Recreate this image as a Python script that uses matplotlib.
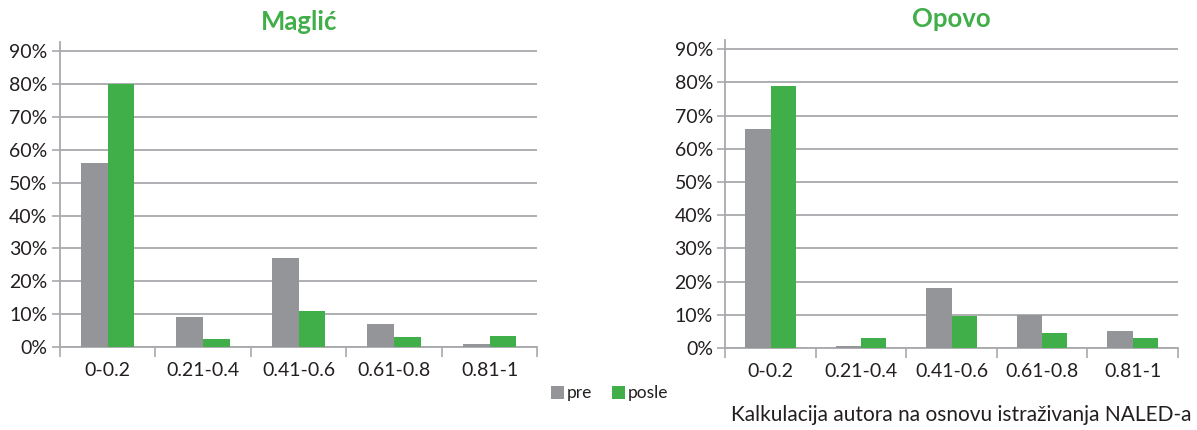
import matplotlib.pyplot as plt
import numpy as np
from matplotlib.ticker import FixedLocator, PercentFormatter

plt.rcParams['font.family'] = ['Lato', 'DejaVu Sans']

CATEGORIES = ['0-0.2', '0.21-0.4', '0.41-0.6', '0.61-0.8', '0.81-1']
MAGLIC_PRE = [56, 9, 27, 7, 1]
MAGLIC_POSLE = [80, 2.5, 11, 3, 3.2]
OPOVO_PRE = [66, 0.6, 18, 10, 5]
OPOVO_POSLE = [79, 3, 9.5, 4.4, 3]
Y_TICKS = [0, 10, 20, 30, 40, 50, 60, 70, 80, 90]

GREY = '#939598'
GREEN = '#40ae49'
TEXT = '#231f20'
GRID = '#a7a9ac'


def draw_panel(ax, title, pre, posle):
    x = np.arange(len(CATEGORIES))
    w = 0.28
    ax.bar(x - w / 2, pre, w, color=GREY, zorder=3, label='pre')
    ax.bar(x + w / 2, posle, w, color=GREEN, zorder=3, label='posle')

    ax.set_xlim(-0.5, len(CATEGORIES) - 0.5)
    ax.set_ylim(0, 92.8)
    ax.set_yticks(Y_TICKS)
    ax.yaxis.set_major_formatter(PercentFormatter(decimals=0))
    ax.yaxis.grid(True, color=GRID, linewidth=1.3, zorder=0)
    ax.set_xticks(x)
    ax.set_xticklabels(CATEGORIES)
    ax.xaxis.set_minor_locator(FixedLocator(np.arange(-0.5, len(CATEGORIES), 1.0)))
    ax.tick_params(axis='x', which='major', length=0, pad=11, labelsize=14, labelcolor=TEXT)
    ax.tick_params(axis='x', which='minor', length=7, width=1.2, color=GRID, direction='out')
    ax.tick_params(axis='y', length=6, width=1.2, color=GRID, labelsize=14, labelcolor=TEXT, pad=3)

    for side in ('top', 'right'):
        ax.spines[side].set_visible(False)
    for side in ('left', 'bottom'):
        ax.spines[side].set_color(GRID)
        ax.spines[side].set_linewidth(1.3)

    ax.set_title(title, color=GREEN, fontsize=18.5, fontweight='bold', pad=9)


fig = plt.figure(figsize=(11.97, 4.30), dpi=100)
ax1 = fig.add_axes([0.050, 0.193, 0.399, 0.709])
ax2 = fig.add_axes([0.606, 0.191, 0.378, 0.716])

draw_panel(ax1, 'Maglić', MAGLIC_PRE, MAGLIC_POSLE)
draw_panel(ax2, 'Opovo', OPOVO_PRE, OPOVO_POSLE)

handles, labels = ax1.get_legend_handles_labels()
fig.legend(handles, labels, loc='center left', bbox_to_anchor=(0.447, 0.085),
           ncol=2, frameon=False, fontsize=12.5, handlelength=0.75, handleheight=0.75,
           handletextpad=0.2, columnspacing=1.1, labelcolor=TEXT)

fig.text(0.995, 0.035, 'Kalkulacija autora na osnovu istraživanja NALED-a',
         ha='right', va='center', fontsize=15, color=TEXT)

fig.savefig('out.png', dpi=100)
